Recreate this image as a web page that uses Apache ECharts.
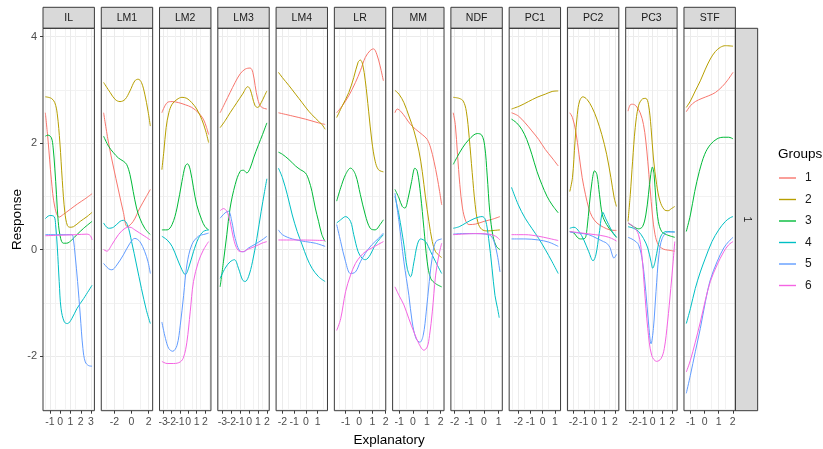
<!DOCTYPE html>
<html><head><meta charset="utf-8">
<script src="https://cdn.jsdelivr.net/npm/echarts@6/dist/echarts.min.js"></script>
<style>html,body{margin:0;padding:0;background:#fff}#c{width:823px;height:449px}</style>
</head><body><div id="c"></div>
<script>
// ---------------- DATA ----------------
const panels = ['IL','LM1','LM2','LM3','LM4','LR','MM','NDF','PC1','PC2','PC3','STF'];
const groups = ['1','2','3','4','5','6'];
const xStep = [1,2,1,1,1,1,1,1,1,1,1,1];
const yTicks = [-2,0,2,4];

// IL
const IL_1x=[-1.45,-1.19,-0.86,-0.53,-0.1,0.3,1.0,1.7,2.4,3.1];
const IL_1y=[2.57,2.06,1.31,0.80,0.61,0.66,0.76,0.86,0.95,1.05];
const IL_2x=[-1.45,-0.86,-0.53,-0.29,-0.03,0.2,0.45,0.7,0.96,1.29,1.95,2.61,3.10];
const IL_2y=[2.87,2.84,2.76,2.55,2.0,1.3,0.7,0.45,0.42,0.43,0.53,0.62,0.70];
const IL_3x=[-1.45,-1.19,-0.86,-0.69,-0.53,-0.36,-0.20,0.04,0.30,0.63,1.12,1.62,2.28,3.10];
const IL_3y=[2.13,2.15,2.10,1.91,1.53,1.03,0.53,0.21,0.12,0.12,0.18,0.28,0.40,0.53];
const IL_4x=[-1.45,-1.02,-0.6,-0.45,-0.28,-0.1,0.08,0.4,0.7,1.12,1.62,2.28,3.10];
const IL_4y=[0.58,0.64,0.62,0.47,0.03,-0.60,-1.11,-1.36,-1.39,-1.30,-1.11,-0.92,-0.67];
const IL_5x=[-1.45,-0.03,1.12,1.29,1.45,1.69,1.95,2.21,2.44,2.77,3.10];
const IL_5y=[0.28,0.28,0.28,0.18,-0.10,-0.60,-1.23,-1.86,-2.11,-2.18,-2.19];
const IL_6x=[-1.45,0,1.5,2.6,2.94,3.1];
const IL_6y=[0.26,0.27,0.28,0.29,0.26,0.18];
// LM1
const LM1_1x=[-3.26,-2.68,-2.11,-1.53,-0.95,-0.49,0.20,0.97,1.74,2.20];
const LM1_1y=[2.57,2.0,1.55,1.12,0.70,0.43,0.53,0.78,1.00,1.13];
const LM1_2x=[-3.26,-2.49,-1.91,-1.34,-0.76,-0.18,0.39,0.78,1.16,1.55,1.93,2.20];
const LM1_2y=[3.14,2.95,2.82,2.78,2.82,2.98,3.17,3.20,3.14,2.92,2.60,2.32];
const LM1_3x=[-3.26,-2.68,-2.11,-1.53,-0.95,-0.57,-0.18,0.20,0.59,0.97,1.55,2.20];
const LM1_3y=[2.13,1.94,1.82,1.72,1.66,1.60,1.41,1.09,0.78,0.59,0.40,0.28];
const LM1_4x=[-3.26,-2.68,-2.11,-1.34,-0.95,-0.49,0.01,0.59,1.16,1.74,2.20];
const LM1_4y=[0.50,0.40,0.42,0.53,0.55,0.47,0.15,-0.29,-0.73,-1.14,-1.39];
const LM1_5x=[-3.26,-2.68,-2.30,-1.72,-0.95,-0.18,0.39,0.97,1.55,1.93,2.20];
const LM1_5y=[-0.26,-0.36,-0.38,-0.29,-0.10,0.12,0.21,0.15,-0.04,-0.23,-0.45];
const LM1_6x=[-3.26,-2.88,-2.30,-1.53,-0.76,-0.18,0.39,0.97,1.55,2.20];
const LM1_6y=[0.0,-0.03,0.09,0.28,0.40,0.42,0.37,0.31,0.25,0.18];
// LM2
const LM2_1x=[-3.15,-2.52,-1.93,-1.14,-0.35,0.43,1.22,1.81,2.20,2.44];
const LM2_1y=[2.57,2.76,2.78,2.76,2.72,2.67,2.57,2.45,2.29,2.16];
const LM2_2x=[-3.15,-2.91,-2.64,-2.32,-1.93,-1.34,-0.75,-0.16,0.43,1.02,1.61,2.09,2.44];
const LM2_2y=[1.50,1.85,2.29,2.57,2.73,2.82,2.86,2.84,2.76,2.64,2.45,2.23,2.01];
const LM2_3x=[-3.15,-2.52,-1.93,-1.34,-0.75,-0.35,-0.08,0.24,0.63,1.02,1.61,2.01,2.44];
const LM2_3y=[0.37,0.37,0.47,0.78,1.28,1.57,1.61,1.50,1.16,0.84,0.56,0.43,0.37];
const LM2_4x=[-3.15,-2.52,-1.93,-1.34,-0.75,-0.35,0.04,0.63,1.22,1.81,2.44];
const LM2_4y=[0.25,0.18,0.06,-0.16,-0.38,-0.47,-0.35,-0.04,0.21,0.34,0.37];
const LM2_5x=[-3.15,-2.72,-2.32,-1.85,-1.34,-0.95,-0.55,-0.16,0.43,1.22,2.01,2.44];
const LM2_5y=[-1.36,-1.67,-1.86,-1.91,-1.80,-1.42,-0.86,-0.29,0.09,0.25,0.29,0.31];
const LM2_6x=[-3.15,-2.52,-1.73,-0.95,-0.55,-0.16,0.24,0.63,1.22,1.81,2.44];
const LM2_6y=[-2.10,-2.14,-2.14,-2.11,-2.02,-1.74,-1.17,-0.60,-0.23,-0.01,0.15];
// LM3
const LM3_1x=[-3.26,-2.70,-2.14,-1.57,-1.01,-0.44,0.12,0.42,0.68,0.98,1.36,2.00];
const LM3_1y=[2.57,2.76,2.95,3.14,3.30,3.39,3.41,3.33,3.08,2.82,2.68,2.64];
const LM3_2x=[-3.26,-2.70,-2.14,-1.38,-0.74,-0.14,0.12,0.38,0.68,0.98,1.36,1.74,2.00];
const LM3_2y=[2.29,2.42,2.57,2.76,2.92,3.06,3.01,2.86,2.70,2.67,2.76,2.89,2.98];
const LM3_3x=[-3.26,-2.89,-2.51,-2.14,-1.57,-1.01,-0.63,-0.26,0.12,0.50,1.06,1.51,2.00];
const LM3_3y=[-0.70,-0.23,0.28,0.78,1.22,1.47,1.49,1.44,1.53,1.72,1.97,2.16,2.38];
const LM3_4x=[-3.26,-2.70,-2.14,-1.65,-1.20,-0.74,-0.44,-0.07,0.38,0.87,1.36,1.74,2.00];
const LM3_4y=[-0.54,-0.35,-0.23,-0.19,-0.35,-0.57,-0.60,-0.51,-0.23,0.21,0.72,1.09,1.33];
const LM3_5x=[-3.26,-2.70,-2.32,-1.95,-1.57,-1.01,-0.63,-0.07,0.68,1.44,2.00];
const LM3_5y=[0.59,0.69,0.72,0.53,0.21,-0.03,-0.04,0.03,0.10,0.18,0.25];
const LM3_6x=[-3.26,-2.89,-2.51,-2.14,-1.76,-1.27,-0.74,-0.07,0.68,1.44,2.00];
const LM3_6y=[0.73,0.77,0.72,0.53,0.21,-0.01,-0.04,0.01,0.06,0.12,0.15];
// LM4
const LM4_1x=[-2.34,-1.16,-0.04,1.08,1.64];
const LM4_1y=[2.57,2.51,2.45,2.38,2.35];
const LM4_2x=[-2.34,-2.0,-1.44,-0.88,-0.32,0.24,0.80,1.36,1.64];
const LM4_2y=[3.33,3.23,3.08,2.92,2.76,2.60,2.47,2.35,2.26];
const LM4_3x=[-2.34,-2.0,-1.44,-0.88,-0.46,-0.04,0.24,0.52,0.80,1.08,1.36,1.64];
const LM4_3y=[1.83,1.79,1.69,1.57,1.50,1.44,1.31,1.09,0.78,0.53,0.28,0.15];
const LM4_4x=[-2.34,-2.0,-1.58,-1.16,-0.74,-0.32,0.10,0.52,1.08,1.64];
const LM4_4y=[1.53,1.35,1.03,0.65,0.34,0.09,-0.16,-0.35,-0.51,-0.60];
const LM4_5x=[-2.34,-2.0,-1.16,-0.04,0.80,1.64];
const LM4_5y=[0.37,0.28,0.20,0.15,0.12,0.06];
const LM4_6x=[-2.34,-0.5,1.64];
const LM4_6y=[0.18,0.18,0.17];
// LR
const LR_1x=[-1.68,-1.26,-0.77,-0.27,0.10,0.47,0.84,1.09,1.33,1.58,1.83];
const LR_1y=[2.57,2.70,2.89,3.14,3.36,3.61,3.74,3.77,3.67,3.45,3.17];
const LR_2x=[-1.68,-1.26,-0.77,-0.40,-0.07,0.10,0.27,0.47,0.72,0.96,1.21,1.46,1.83];
const LR_2y=[2.48,2.70,2.95,3.23,3.52,3.56,3.48,3.17,2.60,2.04,1.66,1.50,1.46];
const LR_3x=[-1.68,-1.38,-1.01,-0.64,-0.27,0.10,0.47,0.84,1.21,1.58,1.83];
const LR_3y=[0.91,1.16,1.41,1.53,1.41,1.03,0.65,0.40,0.37,0.47,0.56];
const LR_4x=[-1.68,-1.38,-1.01,-0.64,-0.40,-0.07,0.22,0.47,0.84,1.21,1.58,1.83];
const LR_4y=[0.50,0.56,0.62,0.53,0.28,-0.04,-0.16,-0.19,-0.10,0.09,0.21,0.28];
const LR_5x=[-1.68,-1.38,-1.01,-0.64,-0.27,0.10,0.47,0.96,1.46,1.83];
const LR_5y=[0.47,0.15,-0.23,-0.45,-0.42,-0.23,-0.07,0.09,0.21,0.31];
const LR_6x=[-1.68,-1.38,-1.01,-0.64,-0.27,0.10,0.47,0.96,1.46,1.83];
const LR_6y=[-1.52,-1.30,-0.79,-0.48,-0.26,-0.13,-0.04,0.03,0.10,0.15];
// MM
const MM_1x=[-1.31,-1.15,-0.90,-0.54,-0.18,0.19,0.67,1.03,1.28,1.52,1.76,1.93,2.08];
const MM_1y=[2.57,2.64,2.60,2.48,2.35,2.26,2.16,2.07,1.91,1.66,1.35,1.09,0.84];
const MM_2x=[-1.31,-1.02,-0.66,-0.30,0.07,0.43,0.67,0.91,1.15,1.40,1.64,2.08];
const MM_2y=[2.99,2.92,2.76,2.51,2.23,1.85,1.47,0.97,0.53,0.15,-0.04,-0.15];
const MM_3x=[-1.31,-1.02,-0.78,-0.59,-0.35,-0.10,0.14,0.31,0.55,0.79,1.03,1.28,1.64,2.08];
const MM_3y=[1.13,0.97,0.81,0.78,0.97,1.28,1.53,1.47,1.03,0.40,-0.23,-0.54,-0.64,-0.70];
const MM_4x=[-1.31,-1.02,-0.66,-0.42,-0.18,0.07,0.31,0.55,0.91,1.28,1.64,2.08];
const MM_4y=[1.0,0.65,0.09,-0.35,-0.51,-0.23,0.09,0.20,0.15,-0.04,-0.23,-0.45];
const MM_5x=[-1.31,-1.02,-0.66,-0.30,-0.06,0.22,0.5,0.74,0.96,1.18,1.42,1.66,2.08];
const MM_5y=[1.06,0.53,-0.23,-0.86,-1.36,-1.67,-1.74,-1.61,-1.17,-0.60,-0.10,0.15,0.20];
const MM_6x=[-1.31,-1.02,-0.66,-0.30,0.07,0.43,0.79,1.03,1.20,1.40,1.64,1.88,2.08];
const MM_6y=[-0.70,-0.86,-1.04,-1.30,-1.55,-1.77,-1.89,-1.83,-1.61,-1.17,-0.48,-0.10,0.12];
// NDF
const NDF_1x=[-2.09,-1.95,-1.80,-1.64,-1.46,-1.23,-1.01,-0.56,0.01,0.57,1.09];
const NDF_1y=[2.57,2.35,1.79,1.22,0.78,0.53,0.47,0.48,0.53,0.57,0.62];
const NDF_2x=[-2.09,-1.68,-1.41,-1.2,-1.0,-0.8,-0.6,-0.4,-0.15,0.23,0.69,1.09];
const NDF_2y=[2.86,2.84,2.79,2.6,2.1,1.45,0.85,0.5,0.38,0.35,0.36,0.37];
const NDF_3x=[-2.09,-1.80,-1.46,-1.01,-0.45,-0.15,0.05,0.22,0.4,0.62,0.85,1.09];
const NDF_3y=[1.60,1.75,1.91,2.07,2.18,2.15,1.95,1.4,0.7,0.25,0.06,0.0];
const NDF_4x=[-2.09,-1.68,-1.23,-0.67,-0.12,0.1,0.32,0.55,0.75,0.93,1.04];
const NDF_4y=[0.40,0.43,0.50,0.58,0.62,0.56,0.21,-0.35,-0.86,-1.11,-1.28];
const NDF_5x=[-2.09,-1.46,-0.56,0.12,0.46,0.69,0.91,1.09];
const NDF_5y=[0.29,0.30,0.30,0.29,0.26,0.15,-0.10,-0.42];
const NDF_6x=[-2.09,-0.56,0.35,0.80,1.09];
const NDF_6y=[0.28,0.30,0.29,0.25,0.18];
// PC1
const PC1_1x=[-2.56,-2.0,-1.44,-0.89,-0.33,0.22,0.78,1.28];
const PC1_1y=[2.57,2.51,2.38,2.23,2.07,1.88,1.72,1.57];
const PC1_2x=[-2.56,-1.86,-1.17,-0.47,0.22,0.78,1.28];
const PC1_2y=[2.64,2.70,2.78,2.86,2.92,2.97,2.98];
const PC1_3x=[-2.56,-2.14,-1.72,-1.31,-0.89,-0.47,-0.06,0.36,0.78,1.28];
const PC1_3y=[2.45,2.38,2.26,2.07,1.79,1.47,1.22,1.0,0.84,0.69];
const PC1_4x=[-2.56,-2.0,-1.44,-0.89,-0.33,0.22,0.78,1.28];
const PC1_4y=[1.17,0.84,0.59,0.40,0.21,0.0,-0.23,-0.45];
const PC1_5x=[-2.56,-1.44,-0.33,0.5,1.28];
const PC1_5y=[0.20,0.20,0.18,0.14,0.06];
const PC1_6x=[-2.56,-1.44,-0.33,0.5,1.28];
const PC1_6y=[0.28,0.28,0.25,0.21,0.17];
// PC2
const PC2_1x=[-2.35,-2.09,-1.78,-1.46,-1.15,-0.83,-0.52,-0.20,0.27,0.90,1.53,2.16];
const PC2_1y=[2.57,2.48,2.23,1.79,1.35,1.03,0.78,0.62,0.50,0.42,0.37,0.36];
const PC2_2x=[-2.35,-2.09,-1.84,-1.62,-1.40,-1.09,-0.68,-0.20,0.27,0.74,1.21,1.62,1.94,2.16];
const PC2_2y=[1.09,1.35,2.04,2.54,2.79,2.87,2.82,2.67,2.45,2.16,1.79,1.35,0.97,0.81];
const PC2_3x=[-2.35,-1.94,-1.62,-1.31,-0.90,-0.68,-0.46,-0.20,0.05,0.27,0.52,0.80,1.21,1.69,2.16];
const PC2_3y=[0.34,0.31,0.23,0.20,0.21,0.40,0.84,1.28,1.48,1.41,1.03,0.65,0.47,0.34,0.23];
const PC2_4x=[-2.35,-1.94,-1.46,-0.99,-0.52,-0.10,0.17,0.49,0.85,1.10,1.40,1.75,2.16];
const PC2_4y=[0.40,0.42,0.34,0.18,-0.04,-0.21,-0.10,0.30,0.70,0.59,0.47,0.34,0.23];
const PC2_5x=[-2.35,-1.46,-0.52,0.27,0.90,1.21,1.53,1.75,1.91,2.16];
const PC2_5y=[0.33,0.31,0.28,0.21,0.15,0.12,0.04,-0.10,-0.16,-0.09];
const PC2_6x=[-2.35,-1.15,0.11,1.06,1.69,2.16];
const PC2_6y=[0.34,0.31,0.28,0.25,0.21,0.16];
// PC3
const PC3_1x=[-2.54,-2.31,-2.07,-1.73,-1.29,-0.95,-0.71,-0.51,-0.27,-0.03,0.24,0.58,1.08,1.59,2.27];
const PC3_1y=[2.60,2.72,2.73,2.70,2.57,2.35,2.04,1.66,1.16,0.65,0.28,0.09,0.01,-0.01,-0.03];
const PC3_2x=[-2.54,-2.31,-2.07,-1.80,-1.46,-1.05,-0.71,-0.44,-0.17,0.07,0.41,0.75,1.19,1.59,1.93,2.27];
const PC3_2y=[0.53,1.03,1.66,2.29,2.70,2.83,2.84,2.73,2.29,1.72,1.22,0.91,0.75,0.73,0.77,0.81];
const PC3_3x=[-2.54,-1.97,-1.46,-1.05,-0.71,-0.44,-0.20,-0.03,0.14,0.34,0.58,0.92,1.42,2.27];
const PC3_3y=[0.50,0.43,0.39,0.43,0.65,1.03,1.41,1.55,1.41,0.91,0.53,0.34,0.28,0.23];
const PC3_4x=[-2.54,-1.97,-1.46,-0.95,-0.51,-0.17,0.0,0.24,0.58,0.92,1.42,2.27];
const PC3_4y=[0.43,0.40,0.34,0.21,0.03,-0.23,-0.35,-0.23,0.09,0.28,0.34,0.33];
const PC3_5x=[-2.54,-1.97,-1.46,-1.05,-0.71,-0.44,-0.17,0.07,0.34,0.64,0.98,1.59,2.27];
const PC3_5y=[0.23,0.18,0.09,-0.23,-0.79,-1.36,-1.77,-1.48,-0.79,-0.10,0.21,0.33,0.33];
const PC3_6x=[-2.54,-1.97,-1.46,-1.12,-0.85,-0.51,-0.10,0.41,0.85,1.19,1.53,1.86,2.10,2.27];
const PC3_6y=[0.50,0.43,0.28,-0.10,-0.73,-1.48,-1.99,-2.10,-2.05,-1.86,-1.36,-0.73,-0.23,0.15];
// STF
const STF_1x=[-1.31,-1.02,-0.67,-0.19,0.29,0.76,1.24,1.60,2.02];
const STF_1y=[2.59,2.70,2.78,2.84,2.89,2.95,3.06,3.17,3.33];
const STF_2x=[-1.31,-1.02,-0.67,-0.31,0.05,0.40,0.76,1.12,1.48,2.02];
const STF_2y=[2.67,2.79,2.98,3.17,3.39,3.58,3.72,3.80,3.83,3.82];
const STF_3x=[-1.31,-1.02,-0.71,-0.38,0.0,0.40,0.88,1.36,1.71,2.02];
const STF_3y=[0.34,0.65,1.09,1.47,1.79,1.97,2.08,2.11,2.11,2.08];
const STF_4x=[-1.31,-1.02,-0.67,-0.31,0.05,0.52,1.0,1.48,1.83,2.02];
const STF_4y=[-1.39,-1.11,-0.73,-0.42,-0.16,0.15,0.37,0.53,0.60,0.62];
const STF_5x=[-1.31,-1.02,-0.67,-0.31,0.05,0.40,0.88,1.36,1.71,2.02];
const STF_5y=[-2.70,-2.36,-1.92,-1.48,-0.98,-0.57,-0.23,0.03,0.15,0.23];
const STF_6x=[-1.31,-1.02,-0.67,-0.31,0.05,0.40,0.88,1.36,1.71,2.02];
const STF_6y=[-2.30,-2.08,-1.74,-1.36,-0.95,-0.60,-0.29,-0.04,0.09,0.15];

const panelData = [
  [[IL_1x,IL_1y],[IL_2x,IL_2y],[IL_3x,IL_3y],[IL_4x,IL_4y],[IL_5x,IL_5y],[IL_6x,IL_6y]],
  [[LM1_1x,LM1_1y],[LM1_2x,LM1_2y],[LM1_3x,LM1_3y],[LM1_4x,LM1_4y],[LM1_5x,LM1_5y],[LM1_6x,LM1_6y]],
  [[LM2_1x,LM2_1y],[LM2_2x,LM2_2y],[LM2_3x,LM2_3y],[LM2_4x,LM2_4y],[LM2_5x,LM2_5y],[LM2_6x,LM2_6y]],
  [[LM3_1x,LM3_1y],[LM3_2x,LM3_2y],[LM3_3x,LM3_3y],[LM3_4x,LM3_4y],[LM3_5x,LM3_5y],[LM3_6x,LM3_6y]],
  [[LM4_1x,LM4_1y],[LM4_2x,LM4_2y],[LM4_3x,LM4_3y],[LM4_4x,LM4_4y],[LM4_5x,LM4_5y],[LM4_6x,LM4_6y]],
  [[LR_1x,LR_1y],[LR_2x,LR_2y],[LR_3x,LR_3y],[LR_4x,LR_4y],[LR_5x,LR_5y],[LR_6x,LR_6y]],
  [[MM_1x,MM_1y],[MM_2x,MM_2y],[MM_3x,MM_3y],[MM_4x,MM_4y],[MM_5x,MM_5y],[MM_6x,MM_6y]],
  [[NDF_1x,NDF_1y],[NDF_2x,NDF_2y],[NDF_3x,NDF_3y],[NDF_4x,NDF_4y],[NDF_5x,NDF_5y],[NDF_6x,NDF_6y]],
  [[PC1_1x,PC1_1y],[PC1_2x,PC1_2y],[PC1_3x,PC1_3y],[PC1_4x,PC1_4y],[PC1_5x,PC1_5y],[PC1_6x,PC1_6y]],
  [[PC2_1x,PC2_1y],[PC2_2x,PC2_2y],[PC2_3x,PC2_3y],[PC2_4x,PC2_4y],[PC2_5x,PC2_5y],[PC2_6x,PC2_6y]],
  [[PC3_1x,PC3_1y],[PC3_2x,PC3_2y],[PC3_3x,PC3_3y],[PC3_4x,PC3_4y],[PC3_5x,PC3_5y],[PC3_6x,PC3_6y]],
  [[STF_1x,STF_1y],[STF_2x,STF_2y],[STF_3x,STF_3y],[STF_4x,STF_4y],[STF_5x,STF_5y],[STF_6x,STF_6y]]
];

// ---------------- STYLE / LAYOUT ----------------
const colors = ['#F8766D','#B79F00','#00BA38','#00BFC4','#619CFF','#F564E3'];
const FONT = '"Liberation Sans", Arial, Helvetica, sans-serif';
const BORDER = '#3A3A3A';
const L0 = 43, PW = 51.4, PS = 58.27, PT = 28.3, PH = 382.4;
const STRIP_TOP = 7.3, STRIP_H = 21;

function expand(lo, hi){ const p = (hi - lo) * 0.05; return [lo - p, hi + p]; }
let yAll = [];
panelData.forEach(p => p.forEach(g => { yAll = yAll.concat(g[1]); }));
const yRange = expand(Math.min(...yAll), Math.max(...yAll));

function multiples(lo, hi, step){
  const out = [];
  for (let v = Math.ceil(lo/step - 1e-9)*step; v <= hi + 1e-9; v += step) out.push(Math.round(v*1000)/1000);
  return out;
}
function isMult(v, step){ return Math.abs(v/step - Math.round(v/step)) < 1e-6; }

const grid = [], xAxis = [], yAxis = [], series = [], graphic = [];
const nP = panels.length;
panels.forEach((name, i) => {
  const left = L0 + i*PS;
  grid.push({left: left, top: PT, width: PW, height: PH, show: true, backgroundColor: '#FFFFFF',
             borderWidth: 0, containLabel: false});
  let xs = [];
  panelData[i].forEach(g => { xs = xs.concat(g[0]); });
  const xr = expand(Math.min(...xs), Math.max(...xs));
  const step = xStep[i];
  const xt = multiples(xr[0], xr[1], step);
  const xtA = xt.filter((v, k) => k % 2 === 0);
  const xtB = xt.filter((v, k) => k % 2 === 1);
  const labelStyle = {show: true, fontSize: 10.5, color: '#4D4D4D', fontFamily: FONT, margin: 6,
                      showMinLabel: true, showMaxLabel: true, hideOverlap: false,
                      formatter: v => isMult(v, step) ? String(Math.round(v)) : ''};
  // main axis (grid lines, even-index labels)
  xAxis.push({
    type: 'value', gridIndex: i, position: 'bottom', min: xr[0], max: xr[1],
    minInterval: step, maxInterval: step, splitNumber: 5,
    axisLine: {show: false, onZero: false},
    axisTick: {show: true, length: 3, lineStyle: {color: BORDER, width: 1}, customValues: xtA},
    axisLabel: Object.assign({customValues: xtA}, labelStyle),
    splitLine: {show: true, lineStyle: {color: '#EBEBEB', width: 1}},
    minorTick: {show: false, splitNumber: 2},
    minorSplitLine: {show: true, lineStyle: {color: '#F2F2F2', width: 1}}
  });
  yAxis.push({
    type: 'value', gridIndex: i, position: 'left', min: yRange[0], max: yRange[1],
    minInterval: 2, maxInterval: 2, splitNumber: 4,
    axisLine: {show: false, onZero: false},
    axisTick: {show: i === 0, length: 3, lineStyle: {color: BORDER, width: 1}, customValues: yTicks},
    axisLabel: {show: i === 0, fontSize: 11, color: '#4D4D4D', fontFamily: FONT, margin: 6,
                customValues: yTicks,
                formatter: v => isMult(v, 2) ? String(Math.round(v)) : ''},
    splitLine: {show: true, lineStyle: {color: '#EBEBEB', width: 1}},
    minorTick: {show: false, splitNumber: 2},
    minorSplitLine: {show: true, lineStyle: {color: '#F2F2F2', width: 1}}
  });
  panelData[i].forEach((g, k) => {
    series.push({
      type: 'line', name: groups[k], xAxisIndex: i, yAxisIndex: i,
      data: g[0].map((x, j) => [x, g[1][j]]),
      smooth: 0.35, symbol: 'none', showSymbol: false, clip: true,
      color: colors[k],
      lineStyle: {width: 1, color: colors[k]},
      itemStyle: {color: colors[k]},
      emphasis: {disabled: true}, silent: true, z: 3
    });
  });
  // panel border on top
  graphic.push({type: 'rect', silent: true, z: 20,
    shape: {x: left, y: PT, width: PW, height: PH},
    style: {fill: null, stroke: BORDER, lineWidth: 1}});
  // facet strip
  graphic.push({type: 'rect', silent: true, z: 10,
    shape: {x: left, y: STRIP_TOP, width: PW, height: STRIP_H},
    style: {fill: '#D9D9D9', stroke: BORDER, lineWidth: 1}});
  graphic.push({type: 'text', silent: true, z: 11, x: left + PW/2, y: STRIP_TOP + STRIP_H/2 + 0.5,
    style: {text: name, fill: '#1A1A1A', font: '10.5px ' + FONT, textAlign: 'center',
            textVerticalAlign: 'middle', verticalAlign: 'middle'}});
  // secondary axis holding the odd-index labels (avoids automatic overlap hiding)
  xAxis.push({
    type: 'value', gridIndex: i, position: 'bottom', min: xr[0], max: xr[1],
    minInterval: step, maxInterval: step, splitNumber: 5,
    axisLine: {show: false, onZero: false},
    axisTick: {show: xtB.length > 0, length: 3, lineStyle: {color: BORDER, width: 1}, customValues: xtB},
    axisLabel: Object.assign({customValues: xtB}, labelStyle, {show: xtB.length > 0}),
    splitLine: {show: false}, minorSplitLine: {show: false}
  });
});
// main axes are at even positions in xAxis array: fix series indices
series.forEach(s => { s.xAxisIndex = s.xAxisIndex * 2; });

// right strip
const RS_X = L0 + 11*PS + PW;
graphic.push({type: 'rect', silent: true, z: 10,
  shape: {x: RS_X, y: PT, width: 22.3, height: PH},
  style: {fill: '#D9D9D9', stroke: BORDER, lineWidth: 1}});
graphic.push({type: 'text', silent: true, z: 11, x: RS_X + 11.5, y: PT + PH/2, rotation: -Math.PI/2,
  style: {text: '1', fill: '#1A1A1A', font: '10.5px ' + FONT, textAlign: 'center',
          textVerticalAlign: 'middle', verticalAlign: 'middle'}});
// axis titles
graphic.push({type: 'text', silent: true, x: 17, y: PT + PH/2, rotation: Math.PI/2,
  style: {text: 'Response', fill: '#000000', font: '13.5px ' + FONT, textAlign: 'center',
          textVerticalAlign: 'middle', verticalAlign: 'middle'}});
graphic.push({type: 'text', silent: true, x: (L0 + RS_X)/2, y: 440,
  style: {text: 'Explanatory', fill: '#000000', font: '13.5px ' + FONT, textAlign: 'center',
          textVerticalAlign: 'middle', verticalAlign: 'middle'}});
graphic.push({type: 'text', silent: true, x: 778, y: 154,
  style: {text: 'Groups', fill: '#000000', font: '13.5px ' + FONT, textAlign: 'left',
          textVerticalAlign: 'middle', verticalAlign: 'middle'}});

const chart = echarts.init(document.getElementById('c'), null, {renderer: 'canvas'});
chart.setOption({
  animation: false,
  backgroundColor: '#FFFFFF',
  textStyle: {fontFamily: FONT},
  grid, xAxis, yAxis, series, graphic,
  legend: {
    data: groups, orient: 'vertical', left: 779, top: 171, padding: 0,
    icon: 'rect', itemWidth: 17, itemHeight: 1.4, itemGap: 7.5,
    selectedMode: false,
    textStyle: {fontSize: 12, lineHeight: 14, color: '#1A1A1A', fontFamily: FONT, padding: [0, 0, 0, 4]}
  }
});
</script></body></html>
